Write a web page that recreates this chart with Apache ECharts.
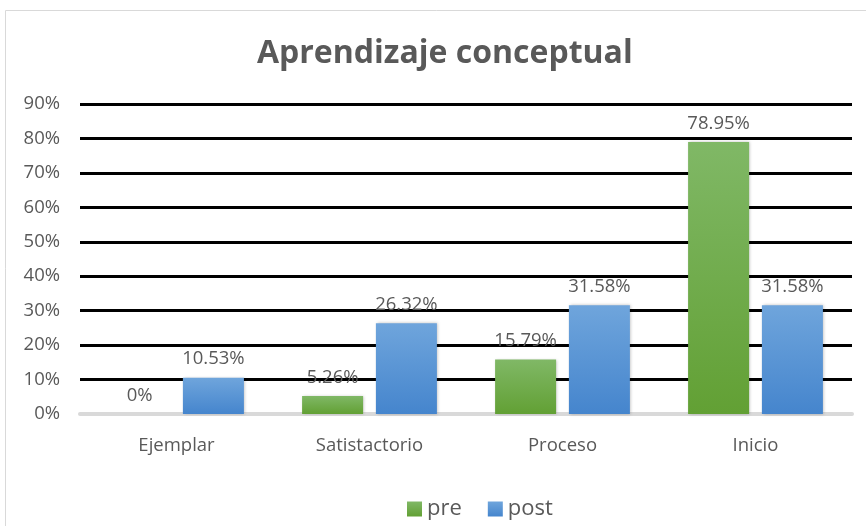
<!DOCTYPE html>
<html>
<head>
<meta charset="utf-8">
<script src="https://cdn.jsdelivr.net/npm/echarts@6/dist/echarts.min.js"></script>
<style>
  html, body { margin: 0; padding: 0; background: #fff; }
  #myChart { width: 866px; height: 526px; }
</style>
</head>
<body>
<div id="myChart"></div>
<script>
  // categorias y valores (%)
  const categorias = ['Ejemplar', 'Satistactorio', 'Proceso', 'Inicio'];
  const pre = [0, 5.26, 15.79, 78.95];
  const post = [10.53, 26.32, 31.58, 31.58];
  const yTicks = [0, 10, 20, 30, 40, 50, 60, 70, 80, 90];

  const font = '"Open Sans", "Noto Sans", sans-serif';
  const gris = '#595959';

  let myChart = echarts.init(document.getElementById('myChart'));

  function grad(top, bottom) {
    return new echarts.graphic.LinearGradient(0, 0, 0, 1, [
      { offset: 0, color: top },
      { offset: 1, color: bottom }
    ]);
  }

  const etiqueta = {
    show: true,
    position: 'top',
    distance: 9,
    color: gris,
    fontFamily: font,
    fontSize: 18.5,
    formatter: (p) => p.value + '%'
  };

  let option = {
    animation: false,
    graphic: [{
      type: 'rect',
      shape: { x: 5.5, y: 10.5, width: 880, height: 540 },
      style: { fill: 'none', stroke: '#d9d9d9', lineWidth: 1 },
      silent: true
    }],
    title: {
      text: 'Aprendizaje conceptual',
      left: 252,
      top: 33,
      textStyle: { color: gris, fontFamily: font, fontSize: 32, fontWeight: 'bold' }
    },
    legend: {
      data: ['pre', 'post'],
      bottom: 1,
      left: 402,
      itemWidth: 15,
      itemHeight: 15,
      itemGap: 26,
      icon: 'rect',
      textStyle: { color: gris, fontFamily: font, fontSize: 22 }
    },
    grid: { left: 80, right: 14, top: 104, bottom: 112 },
    xAxis: {
      type: 'category',
      data: categorias,
      axisTick: { show: false },
      axisLine: { lineStyle: { color: '#d9d9d9', width: 4 } },
      axisLabel: { color: gris, fontFamily: font, fontSize: 18.5, margin: 22 }
    },
    yAxis: {
      type: 'value',
      min: yTicks[0],
      max: yTicks[yTicks.length - 1],
      interval: 10,
      axisLine: { show: false },
      axisTick: { show: false },
      axisLabel: { color: gris, fontFamily: font, fontSize: 18.5, margin: 20, formatter: '{value}%' },
      splitLine: { lineStyle: { color: '#000', width: 3 } }
    },
    series: [
      {
        name: 'pre',
        type: 'bar',
        data: pre,
        barWidth: 61,
        barGap: '21%',
        itemStyle: {
          color: grad('#80b866', '#62a034'),
          shadowColor: 'rgba(0,0,0,0.25)',
          shadowBlur: 3,
          shadowOffsetX: 1
        },
        label: etiqueta
      },
      {
        name: 'post',
        type: 'bar',
        data: post,
        barWidth: 61,
        itemStyle: {
          color: grad('#6fa5dc', '#4585cd'),
          shadowColor: 'rgba(0,0,0,0.25)',
          shadowBlur: 3,
          shadowOffsetX: 1
        },
        label: etiqueta
      }
    ]
  };

  myChart.setOption(option);
</script>
</body>
</html>
